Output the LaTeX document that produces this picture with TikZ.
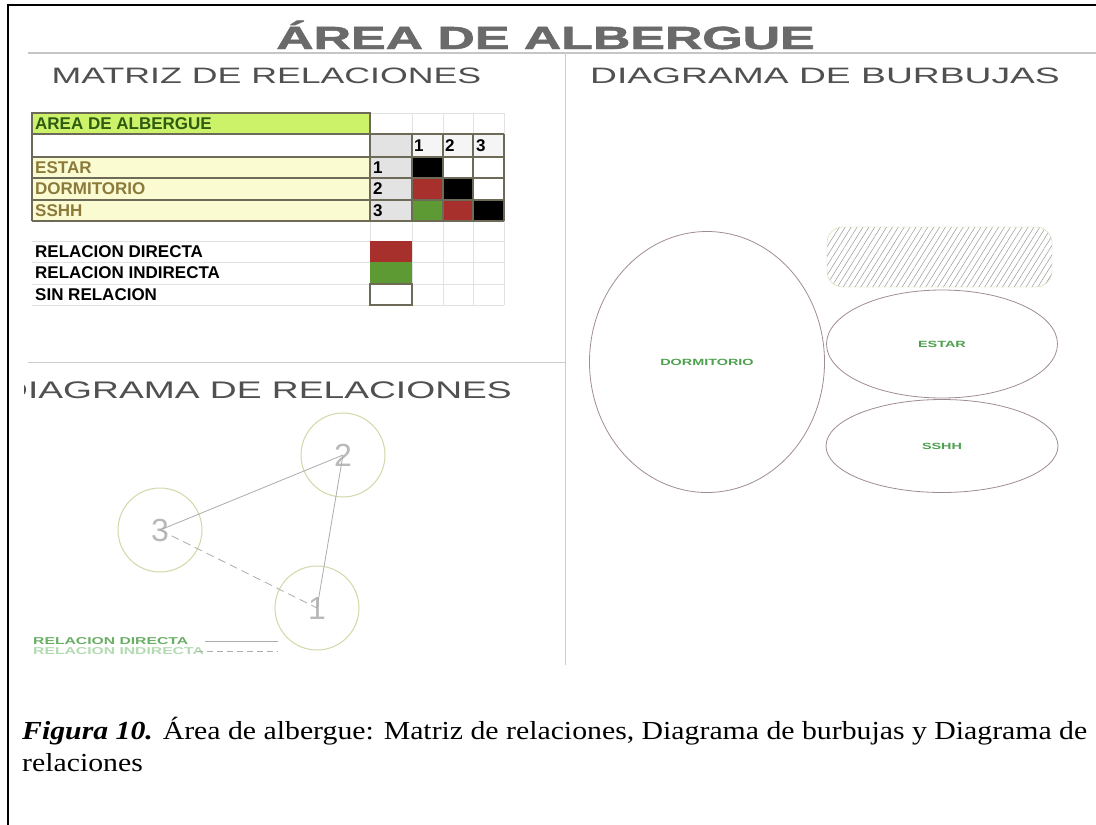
\documentclass[tikz,border=0pt]{standalone}
\usepackage{fontspec}
\setmainfont{Liberation Serif}
\setsansfont{Liberation Sans}
\newfontfamily\heavyfont[FakeBold=1.5]{Liberation Sans Bold}
\usetikzlibrary{positioning,shapes.geometric,patterns.meta}

\definecolor{titlegray}{HTML}{6A6A6A}
\definecolor{headgray}{HTML}{505050}
\definecolor{rowyellow}{HTML}{FBFBD2}
\definecolor{areagreen}{HTML}{CCF26A}
\definecolor{darkolive}{HTML}{2F5A12}
\definecolor{olivetext}{HTML}{8C7A3C}
\definecolor{directred}{HTML}{A8302C}
\definecolor{indirgreen}{HTML}{5E9A34}
\definecolor{bubbleline}{HTML}{A08C94}
\definecolor{bubbletext}{HTML}{4EA04E}
\definecolor{ringcol}{HTML}{D2D8A8}
\definecolor{gridgray}{HTML}{E2E2E2}
\definecolor{borderdark}{HTML}{6E6A58}
\definecolor{legdir}{HTML}{6AAE66}
\definecolor{legind}{HTML}{B4DAB2}

\newcommand{\stretchx}[2]{\scalebox{#1}[1]{#2}}

\tikzset{
  heading/.style={font=\sffamily, text=headgray, inner sep=0pt, anchor=base},
  gridline/.style={draw=gridgray, line width=0.8pt},
  cellline/.style={draw=borderdark, line width=1.1pt},
  tablabel/.style={font=\sffamily\bfseries\fontsize{17}{17}\selectfont, anchor=west, inner sep=0pt},
  ring/.style={circle, draw=ringcol, line width=1pt, minimum size=84pt, inner sep=0pt,
    font=\sffamily\fontsize{32}{32}\selectfont, text=gray!55},
  link/.style={draw=gray!65, line width=0.8pt},
  bubble/.style={ellipse, draw=bubbleline, line width=0.8pt, inner sep=0pt,
    font=\sffamily\bfseries\fontsize{9}{9}\selectfont, text=bubbletext},
  hatchbox/.style={draw=ringcol, rounded corners=16pt,
    pattern={Lines[angle=58, distance=5pt, line width=0.5pt]}, pattern color=gray!80},
  legtext/.style={font=\sffamily\bfseries\fontsize{10}{10}\selectfont, anchor=west, inner sep=0pt},
  captext/.style={font=\fontsize{26}{26}\selectfont, anchor=base west, inner sep=0pt}
}

\begin{document}
\begin{tikzpicture}[x=1pt, y=-1pt]
  \useasboundingbox (0,0) rectangle (1096,825);
  \fill[white] (0,0) rectangle (1096,825);
  % frame
  \draw[line width=2pt] (8,825) -- (8,5) -- (1096,5);

  % headings
  \node[heading, text=titlegray, font=\heavyfont\fontsize{32}{32}\selectfont]
    (title) at (545.5,49) {\stretchx{1.62}{ÁREA DE ALBERGUE}};
  \node[heading, font=\sffamily\fontsize{22.3}{22.3}\selectfont]
    (matrix-title) at (266.5,83) {\stretchx{1.6}{MATRIZ DE RELACIONES}};
  \node[heading, font=\sffamily\fontsize{22.3}{22.3}\selectfont]
    (bubble-title) at (825,83) {\stretchx{1.67}{DIAGRAMA DE BURBUJAS}};
  \begin{scope}
    \clip (24,365) rectangle (565,420);
    \node[heading, anchor=base east, font=\sffamily\fontsize{24}{24}\selectfont]
      (rel-title) at (512,398) {\stretchx{1.55}{DIAGRAMA DE RELACIONES}};
  \end{scope}
  \draw[gray!45, line width=1.2pt] (28,53) -- (1096,53);
  \draw[gray!40, line width=1pt] (565,53) -- (565,665);
  \draw[gray!40, line width=1pt] (28,362) -- (565,362);

  % matriz de relaciones
  \foreach \x in {370,412,443,473,504}
    \draw[gridline] (\x,113) -- (\x,305);
  \foreach \y in {113,221,241,262,284,305}
    \draw[gridline] (32,\y) -- (504,\y);
  \fill[areagreen] (32,113) rectangle (370,134);
  \draw[cellline] (32,113) rectangle (370,134);
  \fill[gray!22] (370,134) rectangle (412,157);
  \fill[gray!8] (412,134) rectangle (504,157);
  \foreach \y in {157,178,200} {
    \fill[rowyellow] (32,\y) rectangle (370,\y+21.3);
    \fill[gray!22] (370,\y) rectangle (412,\y+21.3);
  }
  \foreach \cx/\cy/\cc in {412/157/black, 412/178/directred, 443/178/black,
      412/200/indirgreen, 443/200/directred, 473/200/black}
    \fill[\cc] (\cx,\cy) rectangle (\cx+31,\cy+21.3);
  \foreach \y in {134,157,178,200,221}
    \draw[cellline] (32,\y) -- (504,\y);
  \foreach \x in {32,370,412,443,473,504}
    \draw[cellline] (\x,134) -- (\x,221);

  \node[tablabel, text=darkolive] (area) at (35,123.5) {AREA DE ALBERGUE};
  \node[tablabel] (h1) at (414,145.5) {1};
  \node[tablabel] (h2) at (445,145.5) {2};
  \node[tablabel] (h3) at (476,145.5) {3};
  \node[tablabel, text=olivetext] (estar-lbl) at (35,167.5) {ESTAR};
  \node[tablabel, text=olivetext] (dorm-lbl) at (35,189) {DORMITORIO};
  \node[tablabel, text=olivetext] (sshh-lbl) at (35,210.5) {SSHH};
  \node[tablabel] (n1) at (373,167.5) {1};
  \node[tablabel] (n2) at (373,189) {2};
  \node[tablabel] (n3) at (373,210.5) {3};

  \fill[directred] (370,241) rectangle (412,262);
  \fill[indirgreen] (370,262) rectangle (412,284);
  \draw[cellline] (370,284) rectangle (412,305);
  \node[tablabel] (key-dir) at (35,251.5) {RELACION DIRECTA};
  \node[tablabel] (key-ind) at (35,273) {RELACION INDIRECTA};
  \node[tablabel] (key-sin) at (35,294.5) {SIN RELACION};

  % diagrama de relaciones
  \node[ring] (r2) at (343,455) {2};
  \node[ring] (r3) at (160,530) {3};
  \node[ring] (r1) at (317,608) {1};
  \draw[link] (r3.center) -- (r2.center);
  \draw[link] (r2.center) -- (r1.center);
  \draw[link, dashed, dash pattern=on 8pt off 5pt] (r3.center) -- (r1.center);

  \node[legtext, text=legdir] (leg-dir) at (33,641) {\stretchx{1.57}{RELACION DIRECTA}};
  \node[legtext, text=legind] (leg-ind) at (33,651) {\stretchx{1.57}{RELACION INDIRECTA}};
  \coordinate (dir-a) at (205,641);
  \coordinate (dir-b) at (278,641);
  \coordinate (ind-a) at (197,651);
  \coordinate (ind-b) at (278,651);
  \draw[link] (dir-a) -- (dir-b);
  \draw[link, dash pattern=on 6pt off 4pt] (ind-a) -- (ind-b);

  % diagrama de burbujas
  \node[hatchbox, minimum width=225pt, minimum height=60pt] (hatch) at (939.5,257) {};
  \node[bubble, minimum width=235pt, minimum height=261pt] (dorm) at (707,362)
    {\stretchx{1.6}{DORMITORIO}};
  \node[bubble, minimum width=231pt, minimum height=108pt] (estar) at (942,344)
    {\stretchx{1.6}{ESTAR}};
  \node[bubble, minimum width=232pt, minimum height=93pt] (sshh) at (942,446)
    {\stretchx{1.6}{SSHH}};

  % caption
  \node[captext] (cap1) at (22,739)
    {\stretchx{1.145}{\textbf{\textit{Figura 10.}} Área de albergue: Matriz de relaciones, Diagrama de burbujas y Diagrama de}};
  \node[captext] (cap2) at (22,771) {\stretchx{1.145}{relaciones}};
\end{tikzpicture}
\end{document}
